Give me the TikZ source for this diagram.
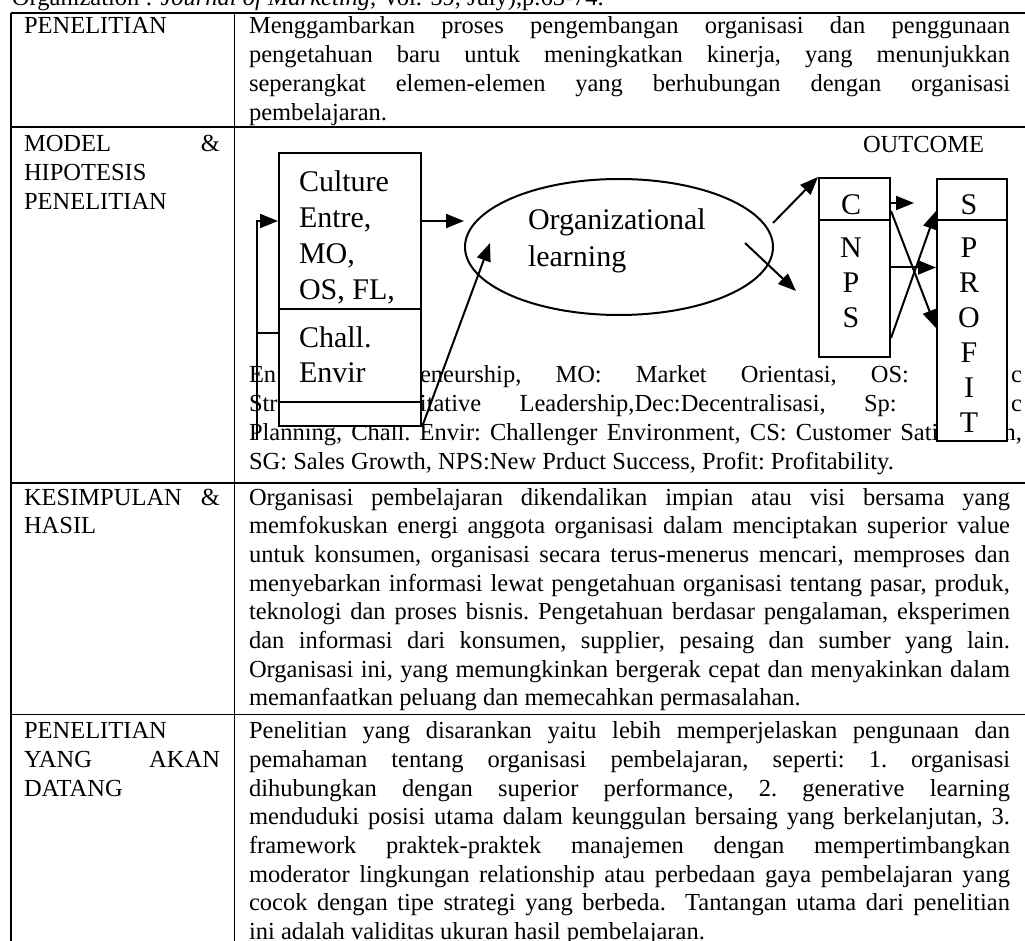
\documentclass[tikz,border=0pt]{standalone}
\usepackage{fontspec}
\setmainfont{Liberation Serif}
\usetikzlibrary{arrows.meta,shapes.geometric}

% body text of the table
\newcommand\bodyfont{\fontsize{24.5}{28.7}\selectfont}
\newlength\rcw \setlength\rcw{761pt}
\newlength\lgw \setlength\lgw{773pt}
\newlength\lcw \setlength\lcw{196pt}
\newcommand\fillline[1]{\hbox to \rcw{#1}}
\newcommand\legline[1]{\hbox to \lgw{#1}}
\newcommand\fillleft[1]{\hbox to \lcw{#1}}
\newcommand\plainline[1]{\hbox{#1}}
\newcommand\textcell[2][28.7]{\vtop{\fontsize{24.5}{#1}\selectfont\frenchspacing\lineskiplimit=-100pt\lineskip=0pt #2}}
% text inside the model figures
\newcommand\boxstack[2]{\vtop{\fontsize{30}{#1}\selectfont\lineskiplimit=-100pt\lineskip=0pt #2}}
\newcommand\ctr[1]{\hbox to 40pt{\hfil#1\hfil}}

\tikzset{
  tab/.style={line width=1.5pt},
  txt/.style={inner sep=0pt, outer sep=0pt},
  box/.style={draw, line width=2pt, fill=white, inner sep=0pt, anchor=north west},
  link/.style={line width=2pt},
  arr/.style={line width=2pt, -{Triangle[length=18pt,width=14pt]}},
}

\begin{document}
\begin{tikzpicture}[x=1pt,y=-1pt]
\fill[white] (0,0) rectangle (1025,941);
\useasboundingbox (0,0) rectangle (1025,941);

% reference line above the table
\node[txt, anchor=base west] (src) at (12,6) {\bodyfont Organization : \textit{Journal of Marketing}, Vol. 59, July),p.63-74.};

% table rules
\draw[tab] (11,13) -- (1025,13);
\draw[tab] (11,127) -- (1025,127);
\draw[tab] (11,483) -- (1025,483);
\draw[tab] (11,714.5) -- (1025,714.5);
\draw[tab] (11,13) -- (11,945);
\draw[tab] (234.5,13) -- (234.5,945);

% left column
\node[txt, anchor=base west] (h1) at (24,34) {\textcell{\plainline{PENELITIAN}}};
\node[txt, anchor=base west] (h2) at (24,152) {\textcell{\fillleft{MODEL \&}\plainline{HIPOTESIS}\plainline{PENELITIAN}}};
\node[txt, anchor=base west] (h3) at (24,505) {\textcell{\fillleft{KESIMPULAN \&}\plainline{HASIL}}};
\node[txt, anchor=base west] (h4) at (24,738.6) {\textcell{\plainline{PENELITIAN}\fillleft{YANG AKAN}\plainline{DATANG}}};

% right column
\node[txt, anchor=base west] (c1) at (249,34) {\textcell{%
\fillline{Menggambarkan proses pengembangan organisasi dan penggunaan}
\fillline{pengetahuan baru untuk meningkatkan kinerja, yang menunjukkan}
\fillline{seperangkat elemen-elemen yang berhubungan dengan organisasi}
\plainline{pembelajaran.}}};

\node[txt, anchor=base west] (legend) at (249,382) {\textcell[29.2]{%
\legline{En\hspace*{143.8pt}eneurship, MO: Market Orientasi, OS: \hspace*{68pt}c}
\legline{Str\hspace*{142.4pt}itative Leadership,Dec:Decentralisasi, Sp: \hspace*{76.2pt}c}
\legline{Planning, Chall. Envir: Challenger Environment, CS: Customer Sati\hspace*{65.3pt}n,}
\plainline{SG: Sales Growth, NPS:New Prduct Success, Profit: Profitability.}}};

\node[txt, anchor=base west] (c3) at (249,505) {\textcell{%
\fillline{Organisasi pembelajaran dikendalikan impian atau visi bersama yang}
\fillline{memfokuskan energi anggota organisasi dalam menciptakan superior value}
\fillline{untuk konsumen, organisasi secara terus-menerus mencari, memproses dan}
\fillline{menyebarkan informasi lewat pengetahuan organisasi tentang pasar, produk,}
\fillline{teknologi dan proses bisnis. Pengetahuan berdasar pengalaman, eksperimen}
\fillline{dan informasi dari konsumen, supplier, pesaing dan sumber yang lain.}
\fillline{Organisasi ini, yang memungkinkan bergerak cepat dan menyakinkan dalam}
\plainline{memanfaatkan peluang dan memecahkan permasalahan.}}};

\node[txt, anchor=base west] (c4) at (249,738.6) {\textcell{%
\fillline{Penelitian yang disarankan yaitu lebih memperjelaskan pengunaan dan}
\fillline{pemahaman tentang organisasi pembelajaran, seperti: 1. organisasi}
\fillline{dihubungkan dengan superior performance, 2. generative learning}
\fillline{menduduki posisi utama dalam keunggulan bersaing yang berkelanjutan, 3.}
\fillline{framework praktek-praktek manajemen dengan mempertimbangkan}
\fillline{moderator lingkungan relationship atau perbedaan gaya pembelajaran yang}
\fillline{cocok dengan tipe strategi yang berbeda.\ \ Tantangan utama dari penelitian}
\plainline{ini adalah validitas ukuran hasil pembelajaran.}}};

% model: antecedent boxes
\node[box, minimum width=142pt, minimum height=156pt] (cul) at (278,152) {};
\node[box, minimum width=142pt, minimum height=117pt] (chl) at (278,308) {};
\draw[link] ([yshift=25pt]chl.south west) -- ([yshift=25pt]chl.south east);
\node[txt, anchor=base west] (cultxt) at (299,192) {\boxstack{36}{\plainline{Culture}\plainline{Entre,}\plainline{MO,}\plainline{OS, FL,}}};
\node[txt, anchor=base west] (chltxt) at (299,347) {\boxstack{35}{\plainline{Chall.}\plainline{Envir}}};

% model: organizational learning
\node[ellipse, draw, line width=2pt, minimum width=308pt, minimum height=136pt, inner sep=0pt] (ell) at (619,247) {};
\node[txt, anchor=base west] (elltxt) at (528,230) {\boxstack{37}{\plainline{Organizational}\plainline{learning}}};

% model: outcome boxes
\node[txt, anchor=base west] (out) at (863,153) {\bodyfont OUTCOME};
\node[box, minimum width=71pt, minimum height=179pt] (cnps) at (818,177) {};
\draw[link] ([yshift=-43pt]cnps.north west) -- ([yshift=-43pt]cnps.north east);
\node[box, minimum width=70pt, minimum height=262pt] (spr) at (936,178) {};
\draw[link] ([yshift=-42pt]spr.north west) -- ([yshift=-42pt]spr.north east);
\node[txt, anchor=base] (ctxt) at (851,215) {\boxstack{35}{\ctr{C}}};
\node[txt, anchor=base] (npstxt) at (851,258) {\boxstack{35}{\ctr{N}\ctr{P}\ctr{S}}};
\node[txt, anchor=base] (stxt) at (969,215) {\boxstack{35}{\ctr{S}}};
\node[txt, anchor=base] (proftxt) at (969,258) {\boxstack{35}{\ctr{P}\ctr{R}\ctr{O}\ctr{F}\ctr{I}\ctr{T}}};

% connectors
\coordinate (fb) at (257,440);
\coordinate (ellin) at (490,243);
\draw[link] ([yshift=35pt]chl.west) -- ([yshift=35pt]chl.west -| fb);
\draw[arr] (fb) |- ([yshift=10pt]cul.west);
\draw[arr] ([yshift=10pt]cul.east) -- ([yshift=10pt]cul.east -| ell.west);
\draw[arr] (chl.south east) -- (ellin);
\draw[arr] ([shift={(154,-24)}]ell.center) -- (cnps.north west);
\draw[arr] ([shift={(126,-4)}]ell.center) -- ([shift={(-22,23.5)}]cnps.west);
\draw[arr] (cnps.east) -- (cnps.east -| spr.west);
\draw[arr] ([yshift=56.5pt]cnps.east) -- ([yshift=-18pt]spr.west);
\draw[arr] ([yshift=-70.5pt]cnps.east) -- ([yshift=99pt]spr.west);
\draw[arr] ([yshift=64.5pt]cnps.east) -- ++(23,0);
\end{tikzpicture}
\end{document}
